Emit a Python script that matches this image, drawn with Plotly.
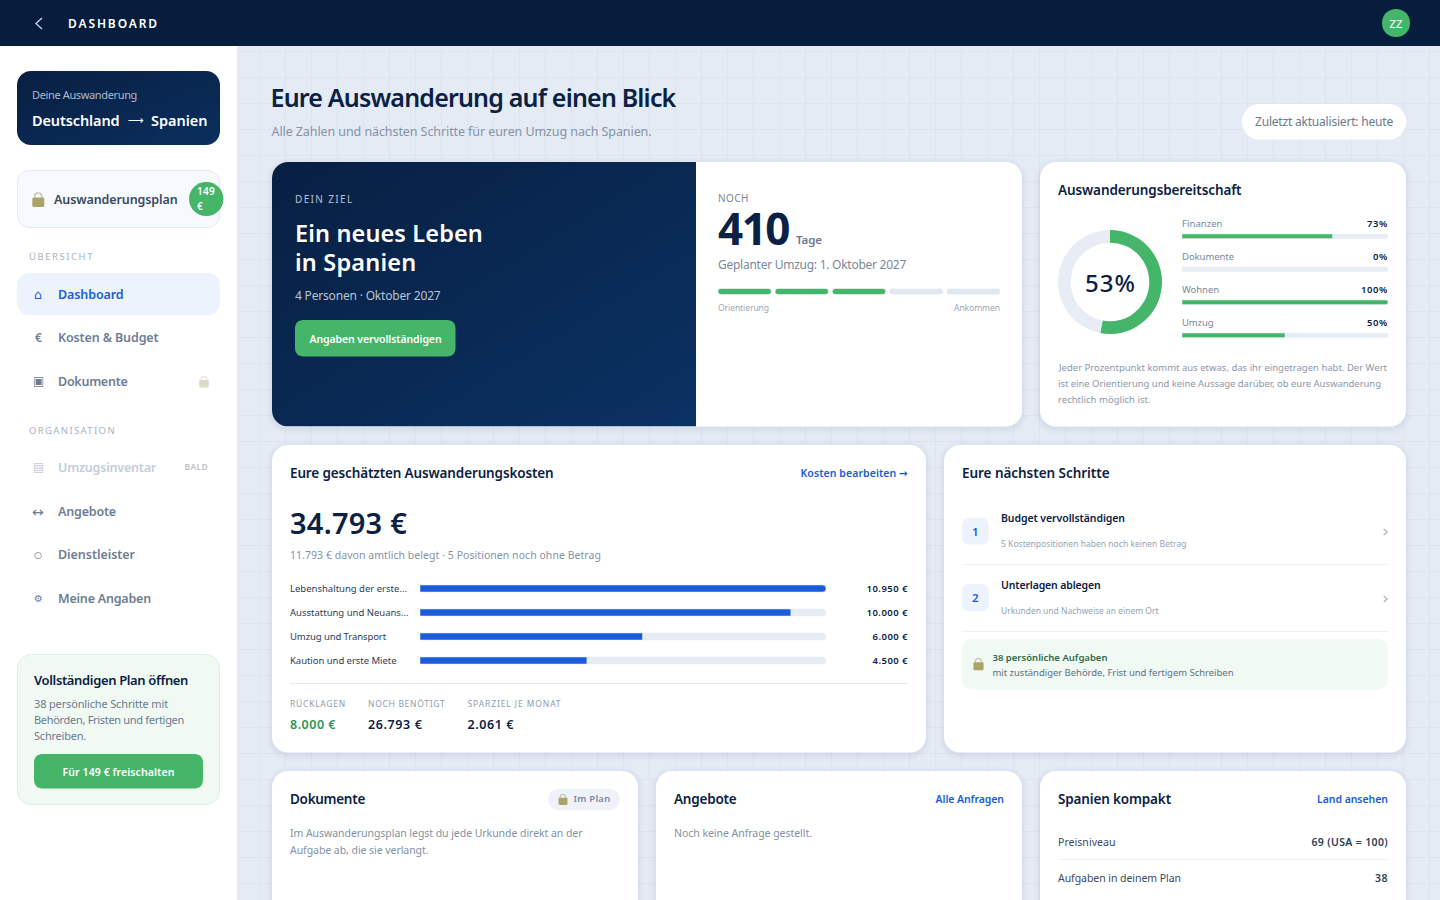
import base64, json
import plotly.graph_objects as go

# ---------- data ----------
READINESS_TOTAL = 53
READINESS_LABELS = ["Finanzen", "Dokumente", "Wohnen", "Umzug"]
READINESS_VALUES = [73, 0, 100, 50]
COST_LABELS = ["Lebenshaltung der erste...", "Ausstattung und Neuans...", "Umzug und Transport", "Kaution und erste Miete"]
COST_VALUES = [10950, 10000, 6000, 4500]
STEP_DONE = [1, 1, 1, 0, 0]

# ---------- style ----------
FONT = "Noto Sans"
SYM = "DejaVu Sans"
NAVY = "#0A2143"
HEAD = "#071D3E"
GREEN = "#45B56A"
BLUE = "#1A5BDB"
TRACK = "#E8EDF5"
W, H = 1440, 900

shapes, annots, images, fits = [], [], [], []


def rr(x0, y0, x1, y1, r):
    if isinstance(r, (int, float)):
        r = (r, r, r, r)
    a, b, c, d = r
    k = 0.4477
    return (f"M{x0+a},{y0} L{x1-b},{y0} C{x1-b*k},{y0} {x1},{y0+b*k} {x1},{y0+b} "
            f"L{x1},{y1-c} C{x1},{y1-c*k} {x1-c*k},{y1} {x1-c},{y1} "
            f"L{x0+d},{y1} C{x0+d*k},{y1} {x0},{y1-d*k} {x0},{y1-d} "
            f"L{x0},{y0+a} C{x0},{y0+a*k} {x0+a*k},{y0} {x0+a},{y0} Z")


def P(path, fill=None, line=None, lw=1, layer="below", op=1):
    shapes.append(dict(type="path", path=path, xref="x", yref="y", layer=layer, opacity=op,
                       fillcolor=fill or "rgba(0,0,0,0)",
                       line=dict(color=line or "rgba(0,0,0,0)", width=lw if line else 0)))


def box(x0, y0, x1, y1, r, fill, line=None, lw=1, layer="below", op=1):
    P(rr(x0, y0, x1, y1, r), fill, line, lw, layer, op)


def card(x0, y0, x1, y1, r=16, fill="#FFFFFF"):
    for d, a in [(6, .012), (4, .016), (2, .024)]:
        box(x0 - d, y0 - d + 2, x1 + d, y1 + d + 2, r + d, f"rgba(10,33,67,{a})")
    box(x0, y0, x1, y1, r, fill)


def T(text, x0, x1, y, size, color, weight=400, font=FONT):
    """text pinned between pixels x0 and x1 and centred on y"""
    lift = .3 if (12 <= size <= 13 or size > 14) else 1
    annots.append(dict(text=text, x=x0, y=y - lift, xref="x", yref="y", xanchor="left",
                       yanchor="middle", showarrow=False, borderpad=0, align="left",
                       font=dict(family=font, size=size, color=color, weight=weight)))
    fits.append([len(annots) - 1, x0, x1])


def C(text, x, y, size, color, weight=400, font=FONT):
    annots.append(dict(text=text, x=x, y=y, xref="x", yref="y", xanchor="center", yanchor="middle",
                       showarrow=False, borderpad=0,
                       font=dict(family=font, size=size, color=color, weight=weight)))


def lock(cx, top, s=1.0, op=1.0):
    bw, bh = 6 * s, 9.5 * s
    by = top + 5 * s
    P(f"M{cx-3.6*s},{by} L{cx-3.6*s},{top+3.6*s} C{cx-3.6*s},{top-.8*s} {cx+3.6*s},{top-.8*s} {cx+3.6*s},{by}",
      None, "#C4C3B4", 1.6 * s, op=op)
    box(cx - bw, by, cx + bw, by + bh, 1.5 * s, "#ABA468", op=op)


def chev(x, y, c="#A8B3C3", s=3, lw=1.2):
    P(f"M{x-s*.6},{y-s} L{x+s*.6},{y} L{x-s*.6},{y+s}", None, c, lw)


def grad(x, y, w, h, c0, c1, r, rcorners):
    a, b, c, d = rcorners
    path = rr(0, 0, w, h, (a, b, c, d))
    svg = (f'<svg xmlns="http://www.w3.org/2000/svg" width="{w}" height="{h}" viewBox="0 0 {w} {h}">'
           f'<defs><linearGradient id="g" x1="0" y1="0" x2="1" y2="1"><stop offset="0" stop-color="{c0}"/>'
           f'<stop offset="1" stop-color="{c1}"/></linearGradient></defs>'
           f'<path d="{path}" fill="url(#g)"/></svg>')
    uri = "data:image/svg+xml;base64," + base64.b64encode(svg.encode()).decode()
    images.append(dict(source=uri, xref="x", yref="y", x=x, y=y, sizex=w, sizey=h, xanchor="left",
                       yanchor="top", sizing="stretch", layer="above"))


# ---------- page background ----------
grid = "".join(f"M{x-.5},46 L{x-.5},900 " for x in range(260, W + 1, 26))
grid += "".join(f"M238,{y-.5} L1440,{y-.5} " for y in range(52, H + 1, 26))
P(grid, None, "#DDE4EF", 1)
box(0, 46, 238, 900, 0, "#FFFFFF")
P("M237.5,46 L237.5,900", None, "#E3E9F2", 1)
box(0, 0, W, 46, 0, HEAD)

# ---------- top bar ----------
P("M42,18 L36,23.5 L42,29", None, "#C6D0DE", 1.4)
T("DASHBOARD", 68, 159, 23.5, 12, "#FFFFFF", 600)
P("M1410,23 C1410,41.7 1382,41.7 1382,23 C1382,4.3 1410,4.3 1410,23 Z", GREEN)
T("ZZ", 1389.5, 1402.5, 24, 11, "#FFFFFF", 500)

# ---------- sidebar ----------
grad(17, 71, 203, 74, "#081F42", "#0A2F5E", 14, (14, 14, 14, 14))
T("Deine Auswanderung", 32, 137, 95, 11, "#AEBACB")
T("Deutschland", 32, 119.5, 120, 14.5, "#FFFFFF", 600)
C("⟶", 135.5, 120, 11, "#FFFFFF", font=SYM)
T("Spanien", 151, 207.5, 120, 14.5, "#FFFFFF", 600)

box(17.5, 170.5, 219.5, 227.5, 12, "#F6F9FD", "#E3E9F3")
lock(38.3, 192.5, 1.0)
T("Auswanderungsplan", 54, 177.5, 199.5, 12.5, "#3A4A62", 600)
box(189, 182, 223.5, 216, 17, GREEN)
T("149", 197, 215, 191.5, 10, "#FFFFFF", 600)
T("€", 197, 203, 207, 10, "#FFFFFF", 600)

T("ÜBERSICHT", 29, 94, 257.5, 9.5, "#A9B4C4")
box(17, 273, 220, 315, 12, "#EDF3FD")
C("⌂", 38, 294, 13, BLUE, font=SYM)
T("Dashboard", 58, 123.5, 294.5, 12.5, BLUE, 600)
C("€", 38, 337.5, 12, "#6F7D92", 600)
T("Kosten & Budget", 58, 158.5, 337.5, 12.5, "#6F7D92", 600)
C("▣", 38, 381, 12, "#6F7D92", font=SYM)
T("Dokumente", 58, 127.5, 381.5, 12.5, "#6F7D92", 600)
lock(204, 376, .8, .4)

T("ORGANISATION", 29, 116, 431.5, 9.5, "#A9B4C4")
C("▤", 38, 467, 12, "#C3CCDA", font=SYM)
T("Umzugsinventar", 58, 156, 467.5, 12.5, "#C3CCDA", 600)
T("BALD", 184.5, 208, 467.5, 8.5, "#B7C1CF", 600)
C("↔", 38, 511.5, 14, "#6F7D92", font=SYM)
T("Angebote", 58, 116, 511.5, 12.5, "#6F7D92", 600)
C("○", 38, 554.5, 9, "#56657C", font=SYM)
T("Dienstleister", 58, 135, 554.5, 12.5, "#6F7D92", 600)
C("⚙", 38, 598.5, 10, "#6F7D92", font=SYM)
T("Meine Angaben", 58, 151, 598.5, 12.5, "#6F7D92", 600)

box(17.5, 654.5, 219.5, 804.5, 14, "#F1F9F3", "#DDEEE2")
T("Vollständigen Plan öffnen", 34, 188, 680.5, 13, NAVY, 600)
T("38 persönliche Schritte mit", 34, 168, 704.5, 11, "#6B7A90")
T("Behörden, Fristen und fertigen", 34, 184, 720.5, 11, "#6B7A90")
T("Schreiben.", 34, 86, 736.5, 11, "#6B7A90")
box(34, 754, 203, 788.5, 8, GREEN)
T("Für 149 € freischalten", 62.5, 174.5, 772.5, 10.5, "#FFFFFF", 600)

# ---------- page heading ----------
T("Eure Auswanderung auf einen Blick", 270.5, 675.5, 97.5, 25, NAVY, 600)
T("Alle Zahlen und nächsten Schritte für euren Umzug nach Spanien.", 271.5, 651.5, 131.5, 12.5, "#8592A6")
box(1242, 104, 1406, 139.5, 17.5, "#FFFFFF")
T("Zuletzt aktualisiert: heute", 1255, 1393, 122, 12, "#6B788C")

# ---------- hero ----------
card(272, 162, 1022, 426.5)
grad(272, 162, 424, 264.5, "#081F42", "#0A3263", 16, (16, 0, 0, 16))
T("DEIN ZIEL", 295, 353.5, 199.5, 10, "#B5C1D2")
T("Ein neues Leben", 295, 483, 233.2, 23.5, "#FFFFFF", 600)
T("in Spanien", 295, 416.5, 262.2, 23.5, "#FFFFFF", 600)
T("4 Personen · Oktober 2027", 295, 440.5, 295.5, 12, "#B9C4D4")
box(295, 320, 455.5, 356.5, 8, GREEN, layer="above")
T("Angaben vervollständigen", 309.5, 441.5, 339.5, 10.5, "#FFFFFF", 600)

T("NOCH", 718, 749, 198.5, 10, "#7A879A")
T("410", 718, 789, 228.7, 44, NAVY, 700)
T("Tage", 796, 822, 240.5, 11.5, "#6B7A90", 600)
T("Geplanter Umzug: 1. Oktober 2027", 718, 906, 265, 12, "#7A879A")
T("Orientierung", 718, 769, 308, 8.5, "#9AA6B6")
T("Ankommen", 954, 1000, 308, 8.5, "#9AA6B6")

# ---------- readiness ----------
card(1040, 162, 1406, 426.5)
T("Auswanderungsbereitschaft", 1058, 1241.5, 190.5, 13.5, NAVY, 600)
T(f"{READINESS_TOTAL}%", 1085, 1136, 283, 24, NAVY, 500)
ready_spans = [(1182, 1222.5), (1182, 1234), (1182, 1219), (1182, 1213.5)]
ready_left = [1367, 1373, 1361, 1367]
for i, (lab, val) in enumerate(zip(READINESS_LABELS, READINESS_VALUES)):
    T(lab, *ready_spans[i], 224 + 33 * i, 9.5, "#7A879A")
    T(f"{val}%", ready_left[i], 1388, 224 + 33 * i, 9.5, NAVY, 600)
T("Jeder Prozentpunkt kommt aus etwas, das ihr eingetragen habt. Der Wert", 1058, 1386, 368, 9.5, "#8C98AA")
T("ist eine Orientierung und keine Aussage darüber, ob eure Auswanderung", 1058, 1381, 384.5, 9.5, "#8C98AA")
T("rechtlich möglich ist.", 1058, 1150.5, 400.5, 9.5, "#8C98AA")

# ---------- costs ----------
card(272, 445, 926, 752.5)
T("Eure geschätzten Auswanderungskosten", 290, 553.5, 473.5, 13.5, NAVY, 600)
T('Kosten bearbeiten <span style="font-family:DejaVu Sans">→</span>', 800.5, 908, 473.5, 10.5, BLUE, 600)
T("34.793 €", 290, 407, 522.3, 29, NAVY, 600)
T("11.793 € davon amtlich belegt · 5 Positionen noch ohne Betrag", 290, 601, 555.5, 10.5, "#8592A6")
lab_right = [407, 408.5, 386, 396.5]
val_left = [866.5, 866.5, 872.5, 872.5]
for i, (lab, val) in enumerate(zip(COST_LABELS, COST_VALUES)):
    y = 589 + 24 * i
    T(lab, 290, lab_right[i], y, 9.5, "#2C3E58")
    T(f"{val:,}".replace(",", ".") + " €", val_left[i], 908, y, 9.5, NAVY, 600)
P("M290,683.5 L908,683.5", None, "#E4E8EF", 1)
T("RÜCKLAGEN", 290, 346, 704, 8.5, "#8F9BAD")
T("NOCH BENÖTIGT", 368, 445.5, 704, 8.5, "#8F9BAD")
T("SPARZIEL JE MONAT", 467.5, 561.5, 704, 8.5, "#8F9BAD")
T("8.000 €", 290, 336, 725, 12.5, "#2E9455", 600)
T("26.793 €", 368, 422.5, 725, 12.5, NAVY, 600)
T("2.061 €", 467.5, 514, 725, 12.5, NAVY, 600)

# ---------- next steps ----------
card(944, 445, 1406, 752.5)
T("Eure nächsten Schritte", 962, 1109.5, 473.5, 13.5, NAVY, 600)
box(962, 518, 989, 544.5, 7, "#EDF3FD")
C("1", 975.5, 531, 11.5, BLUE, 600)
T("Budget vervollständigen", 1001, 1125, 518.5, 10.5, NAVY, 600)
T("5 Kostenpositionen haben noch keinen Betrag", 1001, 1186.5, 544.5, 8.5, "#97A3B4")
chev(1385.5, 532)
P("M962,564.5 L1388,564.5", None, "#EEF1F5", 1)
box(962, 584, 989, 611, 7, "#EDF3FD")
C("2", 975.5, 597, 11.5, BLUE, 600)
T("Unterlagen ablegen", 1001, 1100.5, 585.5, 10.5, NAVY, 600)
T("Urkunden und Nachweise an einem Ort", 1001, 1158.5, 611.5, 8.5, "#97A3B4")
chev(1385.5, 599)
P("M962,631.5 L1388,631.5", None, "#EEF1F5", 1)
box(962, 639, 1388, 689.5, 10, "#F1F9F3")
lock(978.5, 658, .85)
T("38 persönliche Aufgaben", 992.5, 1107.5, 658, 9.5, "#2D6B4C", 600)
T("mit zuständiger Behörde, Frist und fertigem Schreiben", 992.5, 1233.5, 673, 9.5, "#5F6F85")

# ---------- bottom row ----------
card(272, 771, 638, 930)
T("Dokumente", 290, 365, 799.5, 13.5, NAVY, 600)
box(548, 789, 620, 810, 10.5, "#EFF3F9")
lock(563, 794, .75)
T("Im Plan", 573.5, 610.5, 799.5, 9.5, "#7C889B", 600)
T("Im Auswanderungsplan legst du jede Urkunde direkt an der", 290, 582.5, 833.5, 10.5, "#8491A5")
T("Aufgabe ab, die sie verlangt.", 290, 428.5, 850.5, 10.5, "#8491A5")

card(656, 771, 1022, 930)
T("Angebote", 674, 736.5, 799.5, 13.5, NAVY, 600)
T("Alle Anfragen", 935.5, 1004, 799.5, 10.5, BLUE, 600)
T("Noch keine Anfrage gestellt.", 674, 812, 833.5, 10.5, "#8491A5")

card(1040, 771, 1406, 930)
T("Spanien kompakt", 1058, 1171, 799.5, 13.5, NAVY, 600)
T("Land ansehen", 1317, 1388, 799.5, 10.5, BLUE, 600)
T("Preisniveau", 1058, 1115.5, 842.5, 10.5, "#3A4A62")
T("69 (USA = 100)", 1311.5, 1388, 842.5, 10.5, "#2C3E58", 600)
P("M1058,859.5 L1388,859.5", None, "#EEF1F5", 1)
T("Aufgaben in deinem Plan", 1058, 1181, 878.5, 10.5, "#3A4A62")
T("38", 1375, 1388, 878.5, 10.5, "#2C3E58", 600)


# ---------- traces on their own axes ----------
def dx(a, b):
    return [a / W, b / W]


def dy(top, bottom):
    return [1 - bottom / H, 1 - top / H]


fig = go.Figure()

# cost bars
fig.add_trace(go.Bar(y=COST_LABELS, x=[max(COST_VALUES)] * len(COST_VALUES), orientation="h",
                     marker=dict(color=TRACK, cornerradius=3.5), xaxis="x2", yaxis="y2",
                     hoverinfo="skip", showlegend=False, width=7 / 24))
fig.add_trace(go.Bar(y=COST_LABELS, x=COST_VALUES, orientation="h",
                     marker=dict(color=BLUE, cornerradius=3.5), xaxis="x2", yaxis="y2",
                     hoverinfo="skip", showlegend=False, width=7 / 24))
# readiness bars
fig.add_trace(go.Bar(y=READINESS_LABELS, x=[100] * len(READINESS_VALUES), orientation="h",
                     marker=dict(color=TRACK, cornerradius=2), xaxis="x3", yaxis="y3",
                     hoverinfo="skip", showlegend=False, width=4.5 / 33))
fig.add_trace(go.Bar(y=READINESS_LABELS, x=READINESS_VALUES, orientation="h",
                     marker=dict(color=GREEN, cornerradius=2), xaxis="x3", yaxis="y3",
                     hoverinfo="skip", showlegend=False, width=4.5 / 33))
# timeline segments
SEG_GAP = 0.07
fig.add_trace(go.Bar(y=["Fortschritt"] * len(STEP_DONE), x=[1 - SEG_GAP] * len(STEP_DONE),
                     base=list(range(len(STEP_DONE))), orientation="h",
                     marker=dict(color=[GREEN if s else "#E1E7F1" for s in STEP_DONE], cornerradius=3),
                     xaxis="x4", yaxis="y4", hoverinfo="skip", showlegend=False, width=1))
# readiness ring
fig.add_trace(go.Pie(values=[READINESS_TOTAL, 100 - READINESS_TOTAL], sort=False, direction="clockwise",
                     rotation=0, hole=0.755, textinfo="none", hoverinfo="skip", showlegend=False,
                     marker=dict(colors=[GREEN, TRACK], line=dict(width=0)),
                     domain=dict(x=dx(1058, 1162), y=dy(230, 334))))

hidden = dict(visible=False, fixedrange=True)
fig.update_layout(
    width=W, height=H, margin=dict(l=0, r=0, t=0, b=0, pad=0), autosize=False,
    paper_bgcolor="#E5EBF5", plot_bgcolor="rgba(0,0,0,0)", barmode="overlay", hovermode=False,
    showlegend=False, font=dict(family=FONT),
    xaxis=dict(range=[0, W], domain=[0, 1], **hidden),
    yaxis=dict(range=[H, 0], domain=[0, 1], **hidden),
    xaxis2=dict(range=[0, max(COST_VALUES)], domain=dx(420, 826), anchor="y2", **hidden),
    yaxis2=dict(range=[len(COST_LABELS) - .5, -.5], domain=dy(576.5, 672.5), anchor="x2", type="category",
                categoryorder="array", categoryarray=COST_LABELS, **hidden),
    xaxis3=dict(range=[0, 100], domain=dx(1182, 1388), anchor="y3", **hidden),
    yaxis3=dict(range=[len(READINESS_LABELS) - .5, -.5], domain=dy(219.8, 351.8), anchor="x3", type="category",
                categoryorder="array", categoryarray=READINESS_LABELS, **hidden),
    xaxis4=dict(range=[0, len(STEP_DONE) - SEG_GAP], domain=dx(718, 1000), anchor="y4", **hidden),
    yaxis4=dict(range=[-.5, .5], domain=dy(288.5, 294.5), anchor="x4", type="category", **hidden),
    shapes=shapes, annotations=annots, images=images,
)

post = """
document.body.style.margin='0';
document.documentElement.style.overflow='hidden';
var gd=document.getElementById('{plot_id}');
var fits=%s;
function fit(){
  fits.forEach(function(f){
    var g=gd.querySelector('.annotation[data-index="'+f[0]+'"]');
    if(!g) return;
    var t=g.querySelector('text.annotation-text');
    t.style.letterSpacing='0px'; t.removeAttribute('transform');
    var n=t.textContent.length, L=t.getComputedTextLength();
    t.style.letterSpacing=((f[2]-f[1]-L)/n)+'px';
    var r=t.getBoundingClientRect(), o=gd.getBoundingClientRect();
    t.setAttribute('transform','translate('+(f[1]-(r.left-o.left))+',0)');
  });
}
fit(); setTimeout(fit,30); setTimeout(fit,300);
""" % json.dumps(fits)

fig.write_html("out.html", config=dict(displayModeBar=False, staticPlot=True), post_script=post)
